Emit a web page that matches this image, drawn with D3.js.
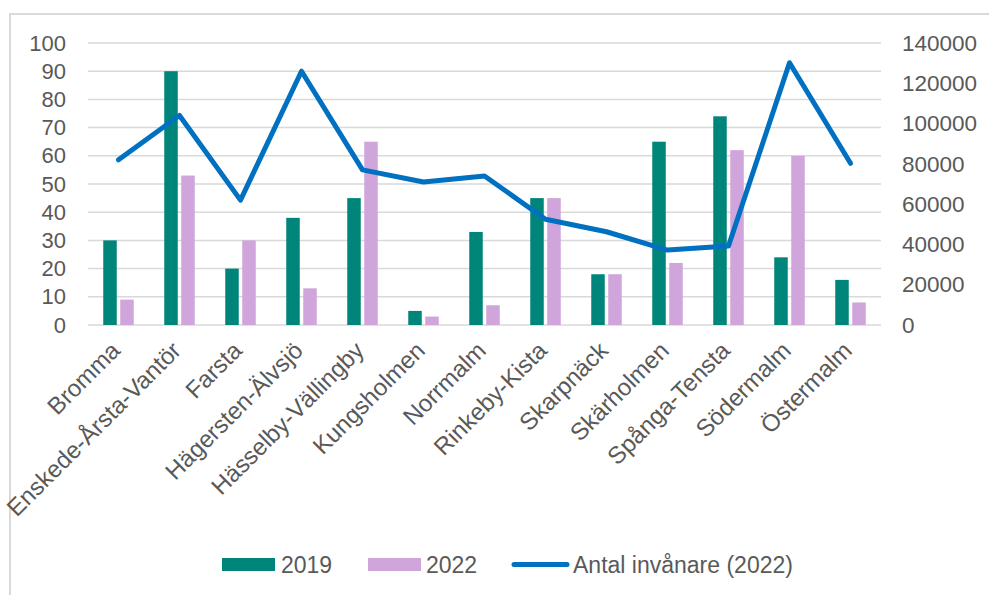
<!DOCTYPE html>
<html>
<head>
<meta charset="utf-8">
<script src="https://cdn.jsdelivr.net/npm/d3@7"></script>
<style>
  html, body { margin: 0; padding: 0; background: #fff; }
  svg { display: block; }
  text { font-family: "Liberation Sans", Arial, sans-serif; fill: #595959; }
</style>
</head>
<body>
<svg id="chart" width="989" height="595"></svg>
<script>
// Stockholm districts (stadsdelsområden)
const districts = ["Bromma", "Enskede-Årsta-Vantör", "Farsta", "Hägersten-Älvsjö",
  "Hässelby-Vällingby", "Kungsholmen", "Norrmalm", "Rinkeby-Kista", "Skarpnäck",
  "Skärholmen", "Spånga-Tensta", "Södermalm", "Östermalm"];
const values2019 = [30, 90, 20, 38, 45, 5, 33, 45, 18, 65, 74, 24, 16];
const values2022 = [9, 53, 30, 13, 65, 3, 7, 45, 18, 22, 62, 60, 8];
const residents2022 = [82000, 104000, 62000, 126000, 77000, 71000, 74000, 52500,
  46300, 37200, 39200, 130200, 80300];
const leftTicks = [0, 10, 20, 30, 40, 50, 60, 70, 80, 90, 100];
const rightTicks = [0, 20000, 40000, 60000, 80000, 100000, 120000, 140000];
const seriesNames = ["2019", "2022", "Antal invånare (2022)"];
const colors = { y2019: "#00857A", y2022: "#CFA5DB", line: "#0070C0", grid: "#D9D9D9" };

const svg = d3.select("#chart");

// outer chart frame (only left and top edges fall inside the view)
svg.append("path")
  .attr("d", "M10,600 L10,14 L995,14")
  .attr("fill", "none").attr("stroke", "#D9D9D9").attr("stroke-width", 2);

const plot = { left: 88, right: 881, top: 43, bottom: 325 };

const x = d3.scaleBand().domain(districts).range([plot.left, plot.right]);
const yL = d3.scaleLinear().domain([0, 100]).range([plot.bottom, plot.top]);
const yR = d3.scaleLinear().domain([0, 140000]).range([plot.bottom, plot.top]);

// horizontal gridlines
svg.append("g").selectAll("line").data(leftTicks).join("line")
  .attr("x1", plot.left).attr("x2", plot.right)
  .attr("y1", d => yL(d)).attr("y2", d => yL(d))
  .attr("stroke", colors.grid).attr("stroke-width", 1.5);

// left axis labels
const leftAxis = svg.append("g")
  .attr("transform", `translate(${plot.left - 22},0)`)
  .call(d3.axisLeft(yL).tickValues(leftTicks).tickSize(0).tickPadding(0));
leftAxis.select(".domain").remove();
leftAxis.selectAll("text").attr("font-size", 22).attr("fill", "#595959")
  .attr("font-family", "Liberation Sans, Arial, sans-serif");

// right axis labels
const rightAxis = svg.append("g")
  .attr("transform", `translate(${plot.right + 21},0)`)
  .call(d3.axisRight(yR).tickValues(rightTicks).tickSize(0).tickPadding(0)
    .tickFormat(d3.format("d")));
rightAxis.select(".domain").remove();
rightAxis.selectAll("text").attr("font-size", 22.5).attr("fill", "#595959")
  .attr("font-family", "Liberation Sans, Arial, sans-serif");

// grouped bars
const barW = 13.5, gap = 3.5;
const bars = svg.append("g");
bars.selectAll("rect.b19").data(values2019).join("rect").attr("class", "b19")
  .attr("x", (d, i) => x(districts[i]) + x.bandwidth() / 2 - gap / 2 - barW)
  .attr("width", barW)
  .attr("y", d => yL(d)).attr("height", d => yL(0) - yL(d))
  .attr("fill", colors.y2019);
bars.selectAll("rect.b22").data(values2022).join("rect").attr("class", "b22")
  .attr("x", (d, i) => x(districts[i]) + x.bandwidth() / 2 + gap / 2)
  .attr("width", barW)
  .attr("y", d => yL(d)).attr("height", d => yL(0) - yL(d))
  .attr("fill", colors.y2022);

// residents line on secondary axis
const line = d3.line()
  .x((d, i) => x(districts[i]) + x.bandwidth() / 2)
  .y(d => yR(d));
svg.append("path").datum(residents2022)
  .attr("d", line)
  .attr("fill", "none").attr("stroke", colors.line)
  .attr("stroke-width", 5).attr("stroke-linejoin", "round").attr("stroke-linecap", "round");

// rotated category labels
svg.append("g").selectAll("text").data(districts).join("text")
  .attr("transform", d => `translate(${x(d) + x.bandwidth() / 2 + 3},${plot.bottom + 27}) rotate(-45)`)
  .attr("text-anchor", "end")
  .attr("font-size", 24)
  .text(d => d);

// legend
const legend = svg.append("g").attr("transform", "translate(0,564.5)");
const legItems = [
  { name: seriesNames[0], type: "rect", color: colors.y2019, x: 222, tx: 281 },
  { name: seriesNames[1], type: "rect", color: colors.y2022, x: 368, tx: 426 },
  { name: seriesNames[2], type: "line", color: colors.line, x: 514, tx: 573 }
];
legItems.forEach(it => {
  if (it.type === "rect") {
    legend.append("rect").attr("x", it.x).attr("y", -6.5).attr("width", 53).attr("height", 13).attr("fill", it.color);
  } else {
    legend.append("line").attr("x1", it.x).attr("x2", it.x + 53).attr("y1", 0).attr("y2", 0)
      .attr("stroke", it.color).attr("stroke-width", 5).attr("stroke-linecap", "round");
  }
  legend.append("text").attr("x", it.tx).attr("y", 0).attr("dy", "0.35em")
    .attr("font-size", 23).text(it.name);
});
</script>
</body>
</html>
